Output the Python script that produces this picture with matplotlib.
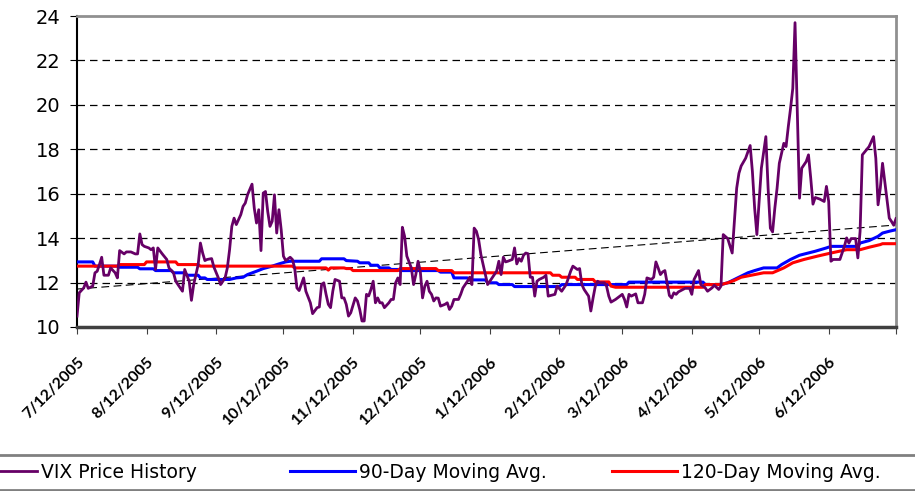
import numpy as np
import matplotlib
matplotlib.use('Agg')
import matplotlib.pyplot as plt
import matplotlib.dates as mdates
import matplotlib.transforms as mtransforms
from matplotlib.patches import Rectangle

# jour 0 = 12/07/2005
start_date = '2005-07-12'

vix_days = [0, 1, 3, 4, 5, 7, 8, 9, 10, 11,
            12, 14, 15, 17, 18, 19, 21, 22, 24, 26,
            27, 28, 29, 30, 32, 33, 34, 35, 36, 38,
            40, 41, 43, 44, 45, 47, 48, 50, 51, 52,
            54, 55, 56, 57, 58, 60, 61, 63, 64, 66,
            67, 68, 69, 70, 71, 73, 74, 75, 76, 78,
            79, 80, 81, 82, 83, 84, 85, 86, 87, 88,
            89, 90, 91, 92, 93, 95, 96, 97, 98, 99,
            101, 102, 104, 105, 107, 108, 109, 110, 111, 112,
            113, 114, 115, 117, 118, 119, 120, 121, 122, 124,
            125, 126, 127, 128, 129, 130, 131, 132, 133, 134,
            135, 136, 137, 139, 140, 141, 142, 143, 144, 145,
            146, 147, 149, 150, 151, 152, 153, 154, 155, 156,
            157, 158, 159, 160, 161, 162, 164, 165, 166, 167,
            168, 170, 171, 172, 174, 175, 176, 177, 178, 179,
            180, 182, 183, 184, 185, 187, 188, 189, 190, 191,
            192, 194, 195, 196, 197, 198, 199, 200, 201, 202,
            203, 204, 205, 206, 208, 209, 210, 212, 213, 214,
            216, 217, 218, 219, 220, 221, 223, 224, 225, 226,
            228, 229, 230, 231, 232, 233, 235, 236, 237, 238,
            240, 242, 243, 244, 245, 246, 247, 249, 250, 252,
            253, 254, 256, 257, 258, 259, 260, 261, 262, 264,
            265, 266, 267, 268, 270, 271, 273, 274, 275, 277,
            278, 280, 281, 283, 284, 286, 287, 288, 290, 292,
            294, 295, 296, 298, 300, 301, 302, 303, 304, 305,
            307, 308, 309, 310, 311, 312, 313, 314, 315, 316,
            317, 318, 319, 320, 321, 322, 323, 325, 326, 327,
            328, 329, 331, 333, 334, 335, 336, 337, 339, 340,
            342, 343, 344, 345, 346, 347, 348, 349, 350, 353,
            355, 356, 357, 358, 359, 360, 362, 363, 364, 365]

vix_values = [10.49, 11.54, 11.76, 12.02, 11.74, 11.84, 12.44, 12.51, 12.81, 13.14,
              12.33, 12.33, 12.66, 12.44, 12.21, 13.44, 13.29, 13.38, 13.38, 13.29,
              13.29, 14.19, 13.71, 13.63, 13.56, 13.48, 13.56, 12.59, 13.56, 13.29,
              13.04, 12.66, 12.44, 12.06, 11.91, 11.61, 12.59, 12.06, 11.20, 11.91,
              12.81, 13.78, 13.33, 12.99, 13.04, 13.08, 12.70, 12.21, 11.91, 12.21,
              12.66, 13.48, 14.53, 14.90, 14.61, 15.06, 15.43, 15.58, 15.95, 16.43,
              15.35, 14.68, 15.28, 13.44, 16.03, 16.10, 15.20, 14.53, 14.76, 15.95,
              14.23, 15.28, 14.38, 13.19, 12.99, 13.14, 13.04, 12.66, 11.76, 11.64,
              12.21, 11.61, 11.09, 10.60, 10.87, 10.90, 11.91, 11.99, 11.47, 11.02,
              10.87, 11.61, 12.14, 12.06, 11.31, 11.31, 11.02, 10.49, 10.64, 11.31,
              11.17, 10.79, 10.27, 10.27, 11.47, 11.40, 11.69, 12.06, 11.09, 11.31,
              11.09, 11.09, 10.87, 11.09, 11.24, 11.24, 11.99, 12.21, 11.91, 14.49,
              14.08, 13.19, 12.66, 11.91, 12.36, 12.96, 12.51, 11.31, 11.84, 12.06,
              11.61, 11.47, 11.17, 11.31, 11.30, 10.94, 11.02, 11.09, 10.79, 10.94,
              11.24, 11.24, 11.47, 11.76, 12.06, 12.24, 11.91, 14.45, 14.31, 13.93,
              13.26, 12.36, 11.91, 12.06, 12.21, 12.51, 12.96, 12.36, 13.14, 12.93,
              12.96, 13.04, 13.56, 12.84, 13.08, 12.96, 13.23, 13.33, 13.30, 12.24,
              12.24, 11.39, 12.06, 12.14, 12.24, 12.33, 11.39, 11.44, 11.47, 11.84,
              11.61, 11.76, 11.91, 12.21, 12.51, 12.74, 12.59, 12.63, 11.91, 11.69,
              11.39, 10.72, 11.31, 11.84, 12.06, 11.99, 11.99, 11.84, 11.39, 11.12,
              11.24, 11.39, 11.47, 11.24, 10.90, 11.47, 11.39, 11.49, 11.09, 11.09,
              11.47, 12.21, 12.14, 12.24, 12.93, 12.66, 12.36, 12.48, 12.54, 11.42,
              11.31, 11.54, 11.47, 11.58, 11.69, 11.74, 11.74, 11.47, 12.14, 12.54,
              11.91, 11.76, 11.61, 11.76, 11.88, 11.69, 11.84, 14.16, 13.98, 13.33,
              16.25, 16.92, 17.25, 17.60, 18.17, 17.00, 15.35, 14.16, 15.65, 17.15,
              18.57, 16.25, 14.45, 14.28, 15.35, 16.25, 17.37, 17.82, 18.27, 18.12,
              19.02, 19.84, 20.74, 23.70, 19.69, 15.80, 17.15, 17.45, 17.75, 16.70,
              15.53, 15.83, 15.76, 15.65, 16.33, 15.65, 12.96, 13.04, 13.04, 13.04,
              13.63, 14.01, 13.78, 13.98, 13.98, 13.98, 13.11, 14.31, 17.75, 18.12,
              18.57, 17.60, 15.50, 16.25, 17.37, 16.55, 14.90, 14.75, 14.58, 14.88]

ma90_days = [0, 7, 8, 18, 19, 27, 28, 34, 35, 42,
             43, 48, 49, 54, 55, 57, 58, 68, 71, 74,
             76, 80, 83, 87, 90, 93, 95, 108, 109, 119,
             120, 125, 126, 130, 131, 134, 135, 139, 140, 143,
             144, 161, 162, 167, 168, 174, 175, 182, 183, 187,
             188, 194, 195, 215, 216, 245, 246, 279, 280, 287,
             290, 293, 296, 299, 302, 306, 312, 314, 318, 322,
             329, 334, 336, 348, 349, 353, 357, 359, 362, 365]
ma90_values = [12.93, 12.93, 12.74, 12.74, 12.69, 12.69, 12.62, 12.62, 12.54, 12.54,
               12.44, 12.44, 12.33, 12.33, 12.21, 12.21, 12.14, 12.14, 12.21, 12.24,
               12.36, 12.51, 12.63, 12.74, 12.84, 12.93, 12.96, 12.96, 13.07, 13.07,
               12.99, 12.96, 12.89, 12.89, 12.78, 12.78, 12.66, 12.66, 12.59, 12.59,
               12.54, 12.54, 12.47, 12.47, 12.21, 12.21, 12.12, 12.12, 11.99, 11.99,
               11.91, 11.91, 11.82, 11.82, 11.91, 11.91, 12.02, 12.02, 11.91, 11.91,
               11.99, 12.14, 12.29, 12.44, 12.54, 12.66, 12.66, 12.81, 13.04, 13.23,
               13.41, 13.56, 13.63, 13.63, 13.78, 13.89, 14.08, 14.23, 14.31, 14.38]

ma120_days = [0, 18, 19, 30, 31, 44, 45, 54, 55, 96,
              97, 111, 112, 113, 119, 120, 122, 123, 143, 144,
              160, 161, 167, 168, 211, 212, 215, 216, 222, 223,
              230, 231, 237, 238, 240, 279, 280, 287, 290, 293,
              296, 300, 306, 310, 315, 319, 324, 330, 336, 343,
              349, 353, 358, 359, 365]
ma120_values = [12.74, 12.74, 12.81, 12.81, 12.93, 12.93, 12.81, 12.81, 12.74, 12.74,
                12.66, 12.66, 12.56, 12.66, 12.66, 12.63, 12.63, 12.54, 12.54, 12.63,
                12.63, 12.54, 12.54, 12.44, 12.44, 12.33, 12.33, 12.24, 12.24, 12.14,
                12.14, 12.03, 12.03, 11.84, 11.79, 11.79, 11.91, 11.91, 11.99, 12.10,
                12.24, 12.32, 12.44, 12.44, 12.66, 12.89, 13.04, 13.19, 13.33, 13.48,
                13.48, 13.59, 13.71, 13.75, 13.75]

tick_dates = ['2005-07-12', '2005-08-12', '2005-09-12', '2005-10-12', '2005-11-12',
              '2005-12-12', '2006-01-12', '2006-02-12', '2006-03-12', '2006-04-12',
              '2006-05-12', '2006-06-12', '2006-07-12']
tick_labels = ['7/12/2005', '8/12/2005', '9/12/2005', '10/12/2005', '11/12/2005',
               '12/12/2005', '1/12/2006', '2/12/2006', '3/12/2006', '4/12/2006',
               '5/12/2006', '6/12/2006', '']
legend_labels = ['VIX Price History', '90-Day Moving Avg.', '120-Day Moving Avg.']

plt.rcParams['font.family'] = ['DejaVu Sans']


def to_dates(days):
    return np.datetime64(start_date) + np.array(days).astype('timedelta64[D]')


t_vix = to_dates(vix_days)
t_90 = to_dates(ma90_days)
t_120 = to_dates(ma120_days)

W, H = 915, 491
fig = plt.figure(figsize=(W/100, H/100), dpi=100)
ax = fig.add_axes([77/W, 1-327/H, 819/W, 311/H])

# grille horizontale en tirets
for v in range(12, 24, 2):
    ax.axhline(v, color='black', lw=0.9, ls=(0, (6, 4)), zorder=1)

l1, = ax.plot(t_vix, vix_values, color='#660066', lw=2.0, zorder=4)
l2, = ax.plot(t_90, ma90_values, color='#0000ff', lw=2.2, zorder=3)
l3, = ax.plot(t_120, ma120_values, color='#ff0000', lw=2.2, zorder=3)

# tendance linéaire du VIX
xn = mdates.date2num(t_vix)
a, b = np.polyfit(xn, vix_values, 1)
xt = np.array([xn[0], xn[-1]])
ax.plot(xt, a*xt+b, color='black', lw=0.8, ls=(0, (7, 4)), zorder=2)

ax.set_ylim(10, 24)
ax.set_yticks(range(10, 25, 2))
ax.set_xlim(np.datetime64(tick_dates[0]), np.datetime64(tick_dates[-1]))
ax.set_xticks([np.datetime64(d) for d in tick_dates])
ax.set_xticklabels(tick_labels, rotation=45, ha='right', va='top',
                   rotation_mode='anchor', fontsize=11.5, fontweight='bold',
                   family=['Lato', 'DejaVu Sans'])
decal = mtransforms.ScaledTranslation(-6/100, 0, fig.dpi_scale_trans)
for lab in ax.get_xticklabels():
    lab.set_transform(lab.get_transform() + decal)
ax.tick_params(axis='y', labelsize=14, length=5, pad=7, direction='out')
ax.tick_params(axis='x', length=5, pad=15, direction='out', color='#404040')

ax.spines['left'].set_color('black')
ax.spines['left'].set_linewidth(1.5)
ax.spines['bottom'].set_color('#404040')
ax.spines['bottom'].set_linewidth(2.5)
for s in ['top', 'right']:
    ax.spines[s].set_color('#909090')
    ax.spines[s].set_linewidth(2)

# cadre de la légende, plus large que la figure
fig.add_artist(Rectangle((-5/W, 1-490/H), 930/W, 35/H, transform=fig.transFigure,
                         fill=False, ec='#808080', lw=2))
fs = 13.5
fs_px = fs*100/72
for line, lab, x0 in zip([l1, l2, l3], legend_labels, [-28, 290, 612]):
    fig.legend([line], [lab], loc='center left',
               bbox_to_anchor=(x0/W, 1-472.5/H), frameon=False,
               borderpad=0, borderaxespad=0, fontsize=fs,
               handlelength=65/fs_px, handletextpad=4/fs_px)

fig.savefig('out.png', dpi=100)
